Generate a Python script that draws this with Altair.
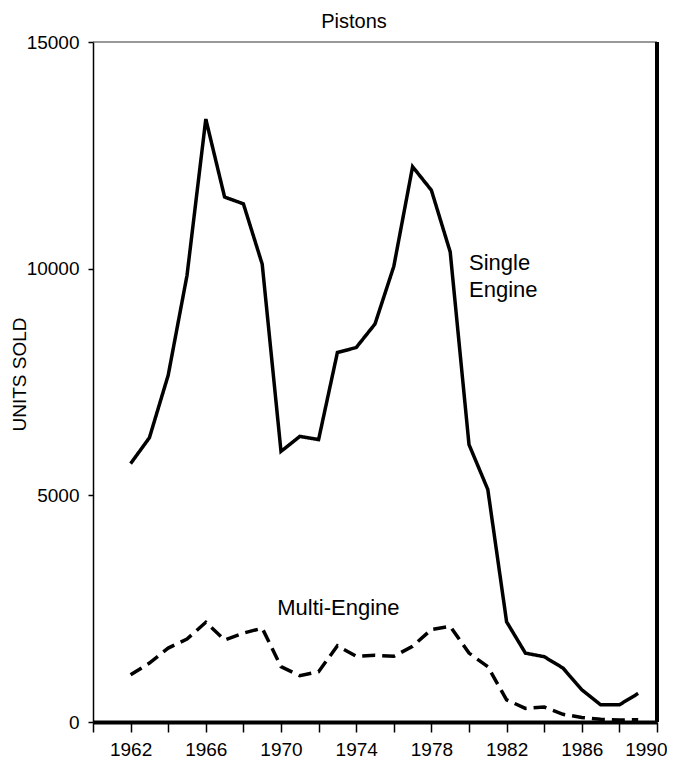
import altair as alt
import pandas as pd

# ---- data ----
years = list(range(1962, 1990))
single_engine = [5700, 6270, 7650, 9850, 13300, 11580, 11430, 10100, 5970, 6300,
                 6230, 8150, 8260, 8780, 10050, 12250, 11730, 10370, 6120, 5130,
                 2210, 1520, 1440, 1190, 710, 380, 380, 630]
multi_engine = [1040, 1300, 1630, 1830, 2200, 1810, 1960, 2070, 1220, 1020,
                1110, 1680, 1450, 1470, 1450, 1670, 2040, 2110, 1520, 1220,
                490, 300, 330, 170, 100, 60, 45, 50]
x_ticks = list(range(1960, 1991, 2))
y_ticks = [0, 5000, 10000, 15000]
label_text = ["Single", "Engine", "Multi-Engine"]
label_year = [1980.0, 1980.0, 1969.8]
label_units = [9960, 9380, 2370]

FONT = "Liberation Sans"

df = pd.DataFrame({
    "year": years * 2,
    "units": single_engine + multi_engine,
    "series": ["Single Engine"] * len(years) + ["Multi-Engine"] * len(years),
})
labels = pd.DataFrame({"year": label_year, "units": label_units, "text": label_text})

x_scale = alt.Scale(domain=[1960, 1990], nice=False, zero=False)
y_scale = alt.Scale(domain=[0, 15000], nice=False)

x_axis = alt.Axis(
    values=x_ticks, format="d",
    labelExpr="datum.value % 4 == 2 ? datum.label : ''",
    labelOverlap=False, labelFlush=True, labelFlushOffset=10,
    title=None, grid=False,
    domainWidth=4, domainColor="black",
    tickColor="black", tickWidth=1.5, tickSize=10,
    labelPadding=8, labelFontSize=19, labelFont=FONT, labelColor="black",
)
y_axis = alt.Axis(
    values=y_ticks, format="d", title="UNITS SOLD", grid=False,
    labelOverlap=False, labelFlush=False,
    titleFont=FONT, titleFontSize=19, titleFontWeight="normal", titleColor="black",
    titleX=-64, titleY=332,
    domainWidth=1.5, domainColor="black",
    tickColor="black", tickWidth=1.5, tickSize=5,
    labelPadding=9, labelFontSize=19, labelFont=FONT, labelColor="black",
)

lines = alt.Chart(df).mark_line(color="black", strokeWidth=3.5, strokeCap="butt").encode(
    x=alt.X("year:Q", scale=x_scale, axis=x_axis),
    y=alt.Y("units:Q", scale=y_scale, axis=y_axis),
    strokeDash=alt.StrokeDash(
        "series:N",
        scale=alt.Scale(domain=["Single Engine", "Multi-Engine"], range=[[1, 0], [13, 7]]),
        legend=None,
    ),
    detail="series:N",
)

right_border = alt.Chart(pd.DataFrame({"year": [1990]})).mark_rule(
    color="black", strokeWidth=4
).encode(x=alt.X("year:Q", scale=x_scale, axis=x_axis))

top_border = alt.Chart(pd.DataFrame({"units": [15000]})).mark_rule(
    color="#333333", strokeWidth=1
).encode(y=alt.Y("units:Q", scale=y_scale, axis=y_axis))

text = alt.Chart(labels).mark_text(
    align="left", baseline="alphabetic", fontSize=22, font=FONT, color="black"
).encode(
    x=alt.X("year:Q", scale=x_scale, axis=x_axis),
    y=alt.Y("units:Q", scale=y_scale, axis=y_axis),
    text="text:N",
)

chart = alt.layer(lines, top_border, right_border, text).properties(
    width=564, height=680,
    autosize="none",
    padding={"left": 85, "top": 34, "right": 10, "bottom": 36},
    title=alt.Title("Pistons", font=FONT, fontSize=20, fontWeight="normal",
                    color="black", dx=-21, offset=1),
).configure_view(stroke=None)

chart.save("out.html", embed_options={"renderer": "svg", "actions": False})
